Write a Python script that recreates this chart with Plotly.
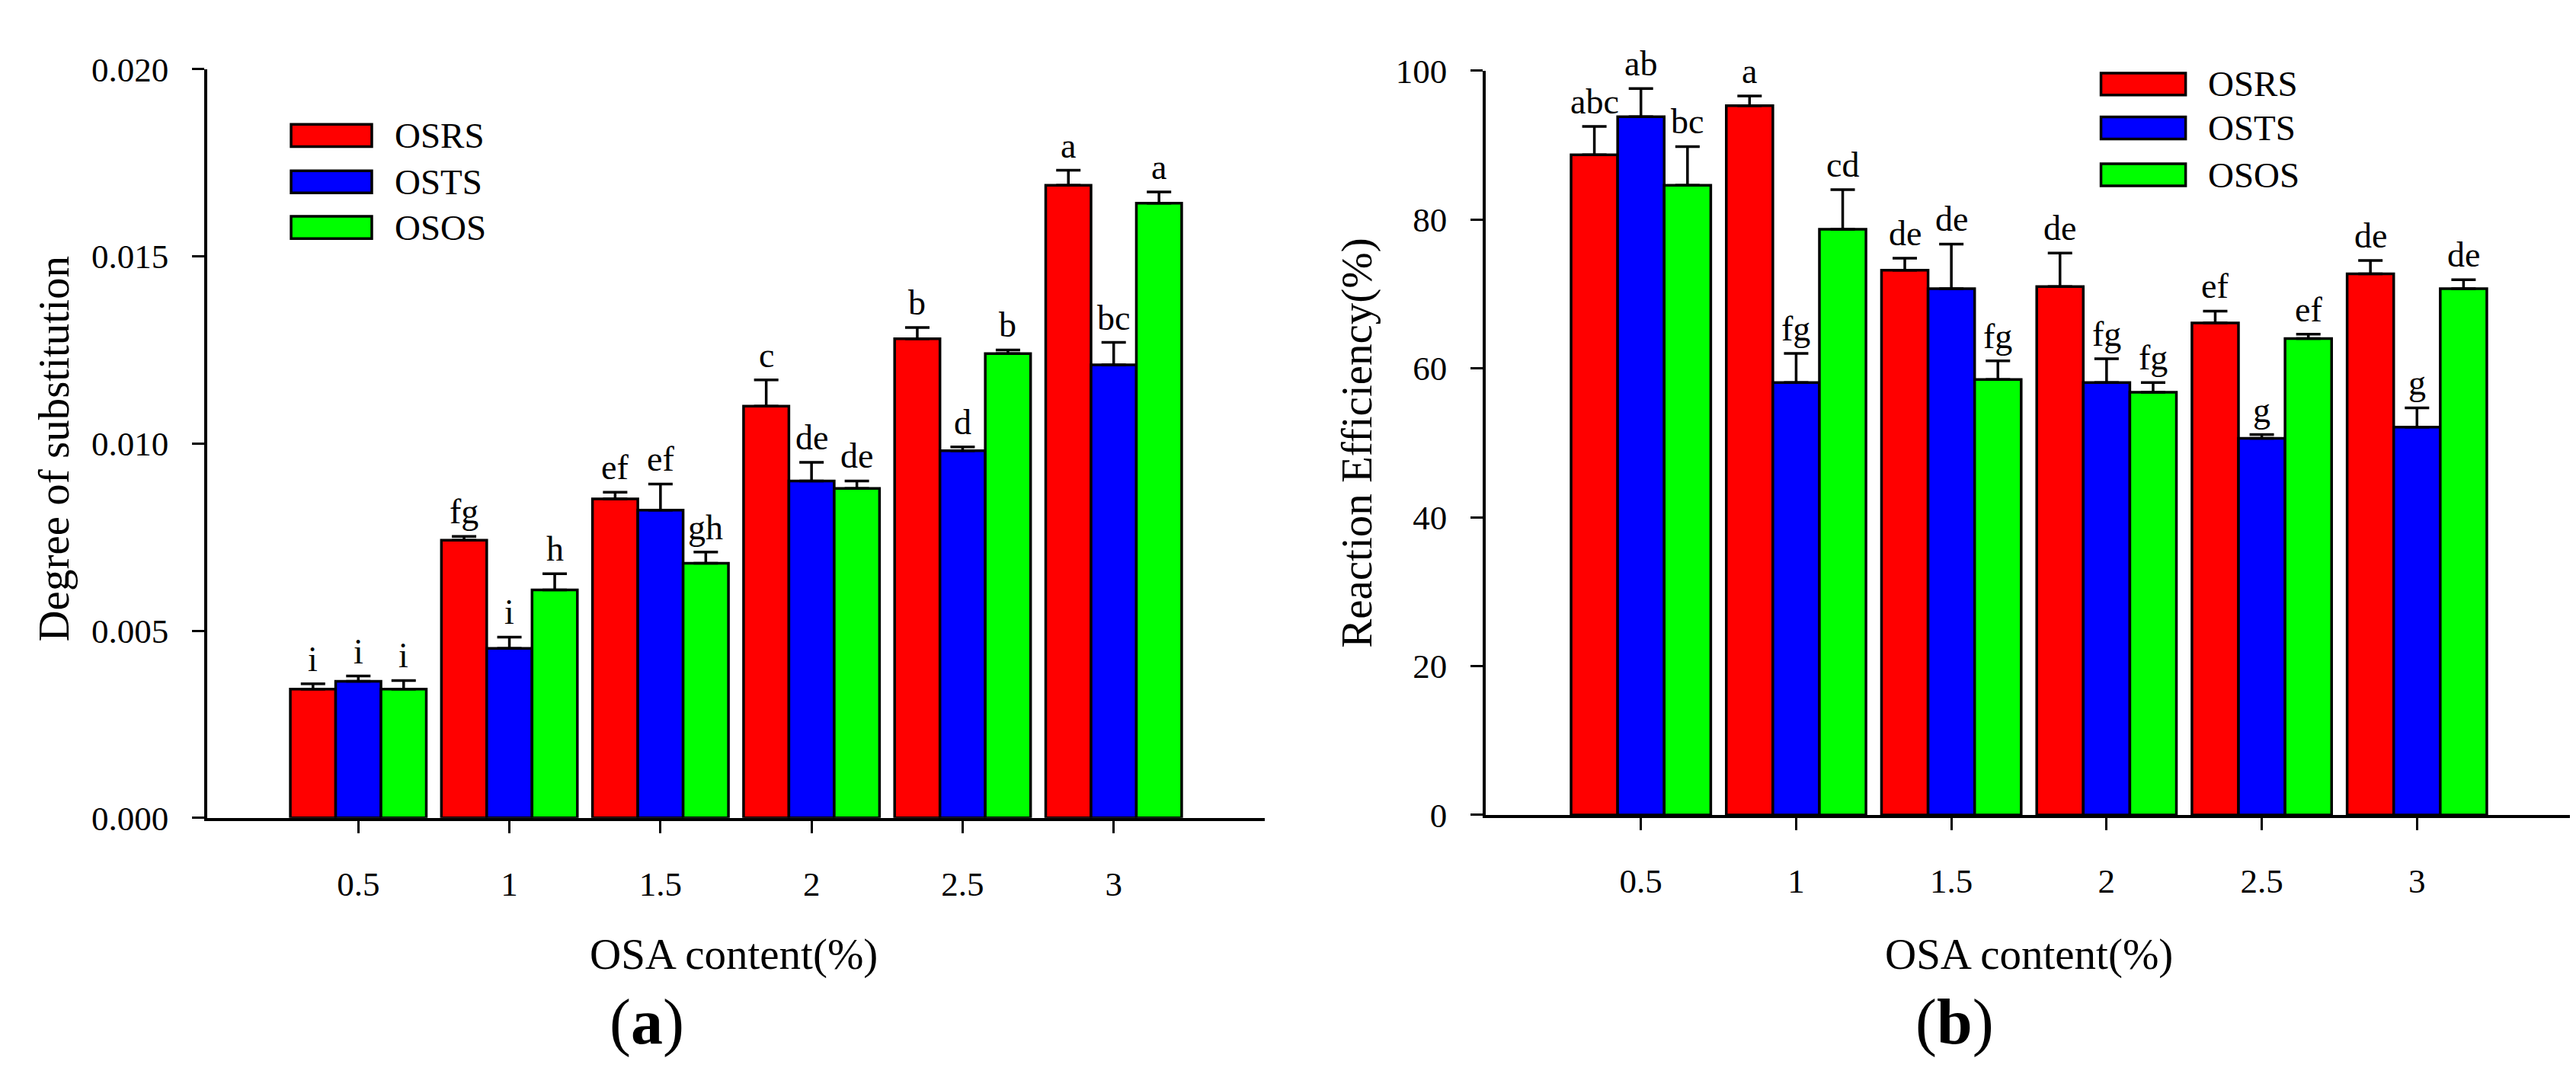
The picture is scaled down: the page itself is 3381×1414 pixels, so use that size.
import plotly.graph_objects as go

# OSA content levels (x categories)
osa_levels = ["0.5", "1", "1.5", "2", "2.5", "3"]
series_names = ["OSRS", "OSTS", "OSOS"]
series_colors = ["#FF0000", "#0000FF", "#00FF00"]

# (a) degree of substitution
ds_osrs = [0.00344, 0.00742, 0.00852, 0.0110, 0.0128, 0.0169]
ds_osrs_err = [0.00014, 0.00010, 0.00018, 0.0007, 0.0003, 0.0004]
ds_osts = [0.00365, 0.00453, 0.00822, 0.0090, 0.00981, 0.0121]
ds_osts_err = [0.00014, 0.0003, 0.0007, 0.0005, 0.0001, 0.0006]
ds_osos = [0.00344, 0.00609, 0.0068, 0.0088, 0.0124, 0.01642]
ds_osos_err = [0.00023, 0.00043, 0.0003, 0.0002, 0.0001, 0.0003]
ds_osrs_letters = ["i", "fg", "ef", "c", "b", "a"]
ds_osts_letters = ["i", "i", "ef", "de", "d", "bc"]
ds_osos_letters = ["i", "h", "gh", "de", "b", "a"]

# (b) reaction efficiency (%)
re_osrs = [88.7, 95.3, 73.2, 71.0, 66.1, 72.7]
re_osrs_err = [3.8, 1.3, 1.6, 4.5, 1.6, 1.8]
re_osts = [93.8, 58.1, 70.7, 58.1, 50.6, 52.1]
re_osts_err = [3.8, 3.9, 6.0, 3.2, 0.5, 2.6]
re_osos = [84.6, 78.7, 58.5, 56.8, 64.0, 70.7]
re_osos_err = [5.2, 5.3, 2.5, 1.3, 0.6, 1.2]
re_osrs_letters = ["abc", "a", "de", "de", "ef", "de"]
re_osts_letters = ["ab", "fg", "de", "fg", "g", "g"]
re_osos_letters = ["bc", "cd", "fg", "fg", "ef", "de"]

ds_tickvals = [0.000, 0.005, 0.010, 0.015, 0.020]
re_tickvals = [0, 20, 40, 60, 80, 100]

FONT = "Liberation Serif, Times New Roman, serif"
x_pos = list(range(len(osa_levels)))

panels = [
    dict(xa="x", ya="y", vals=[ds_osrs, ds_osts, ds_osos],
         errs=[ds_osrs_err, ds_osts_err, ds_osos_err],
         letters=[ds_osrs_letters, ds_osts_letters, ds_osos_letters]),
    dict(xa="x2", ya="y2", vals=[re_osrs, re_osts, re_osos],
         errs=[re_osrs_err, re_osts_err, re_osos_err],
         letters=[re_osrs_letters, re_osts_letters, re_osos_letters]),
]

fig = go.Figure()
annotations = []
shapes = []

for p in panels:
    for k, name in enumerate(series_names):
        fig.add_trace(go.Bar(
            x=x_pos, y=p["vals"][k], name=name, xaxis=p["xa"], yaxis=p["ya"],
            marker=dict(color=series_colors[k], line=dict(color="black", width=3.5)),
            error_y=dict(type="data", symmetric=False, array=p["errs"][k],
                         arrayminus=[0] * len(x_pos), color="black",
                         thickness=3.5, width=16),
            showlegend=False,
        ))
        # significance letters above the error bars
        for i in x_pos:
            annotations.append(dict(
                x=i + (k - 1) * 0.3, y=p["vals"][k][i] + p["errs"][k][i],
                xref=p["xa"], yref=p["ya"], text=p["letters"][k][i],
                showarrow=False, xanchor="center", yanchor="bottom", yshift=5,
                font=dict(family=FONT, size=46, color="black"),
            ))

# hand-drawn legends (wide swatches like the original)
legend_specs = [
    dict(xd="x domain", yd="y domain", x0=0.0793, x1=0.1556, xt=0.1758,
         rows=[0.9115, 0.8496, 0.7886]),
    dict(xd="x2 domain", yd="y2 domain", x0=0.5663, x1=0.6442, xt=0.6632,
         rows=[0.982, 0.923, 0.860]),
]
for lg in legend_specs:
    for k, name in enumerate(series_names):
        yc = lg["rows"][k]
        shapes.append(dict(type="rect", xref=lg["xd"], yref=lg["yd"],
                           x0=lg["x0"], x1=lg["x1"], y0=yc - 0.0148, y1=yc + 0.0148,
                           fillcolor=series_colors[k], line=dict(color="black", width=3.5)))
        annotations.append(dict(x=lg["xt"], y=yc, xref=lg["xd"], yref=lg["yd"],
                                text=name, showarrow=False, xanchor="left", yanchor="middle",
                                font=dict(family=FONT, size=47, color="black")))


def label(x_px, y_px, text, size, angle=0):
    # centred text placed in page pixels
    return dict(x=x_px / 3381, y=1 - y_px / 1414, xref="paper", yref="paper",
                text=text, textangle=angle, showarrow=False,
                xanchor="center", yanchor="middle",
                font=dict(family=FONT, size=size, color="black"))


annotations += [
    label(63, 578, "Degree of substitution", 57, -90),
    label(1773, 570, "Reaction Efficiency(%)", 57, -90),
    label(955, 1266, "OSA content(%)", 57),
    label(2655, 1266, "OSA content(%)", 57),
    label(841, 1358, "(<b>a</b>)", 84),
    label(2557, 1358, "(<b>b</b>)", 84),
]

x_common = dict(range=[-1, 6], tickmode="array", tickvals=x_pos, ticktext=osa_levels,
                showline=True, linecolor="black", linewidth=4, ticks="outside",
                ticklen=16, tickwidth=3, tickcolor="black", showgrid=False,
                zeroline=False, ticklabelstandoff=28,
                tickfont=dict(family=FONT, size=45, color="black"))
y_common = dict(showline=True, linecolor="black", linewidth=3.5, ticks="outside",
                ticklen=16, tickwidth=3, tickcolor="black", showgrid=False,
                zeroline=False, ticklabelstandoff=22,
                tickfont=dict(family=FONT, size=45, color="black"))

fig.update_layout(
    width=3381, height=1414,
    margin=dict(l=0, r=0, t=0, b=0),
    paper_bgcolor="white", plot_bgcolor="white",
    barmode="group", bargap=0.1, bargroupgap=0,
    xaxis=dict(domain=[264 / 3381, 1652 / 3381], anchor="y", **x_common),
    yaxis=dict(domain=[1 - 1080 / 1414, 1 - 61 / 1414], anchor="x", range=[0, 0.020],
               tickvals=ds_tickvals, tickformat=".3f", **y_common),
    xaxis2=dict(domain=[1942 / 3381, 3368 / 3381], anchor="y2", **x_common),
    yaxis2=dict(domain=[1 - 1076 / 1414, 1 - 63 / 1414], anchor="x2", range=[0, 100],
                tickvals=re_tickvals, **y_common),
    annotations=annotations,
    shapes=shapes,
    showlegend=False,
)

fig.write_html("out.html")
